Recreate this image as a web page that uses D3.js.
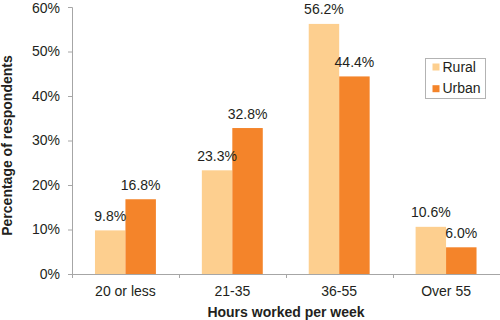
<!DOCTYPE html>
<html>
<head>
<meta charset="utf-8">
<script src="https://cdn.jsdelivr.net/npm/d3@7"></script>
<style>
  body { margin: 0; background: #fff; }
  svg { display: block; font-family: "Liberation Sans", Arial, Helvetica, sans-serif; }
  .axis path, .axis line { stroke: #a6a6a6; }
  .axis text { font-size: 14px; fill: #231f20; }
</style>
</head>
<body>
<div id="chart"></div>
<script>
const categories = ['20 or less', '21-35', '36-55', 'Over 55'];
const seriesNames = ['Rural', 'Urban'];
const rural = [9.8, 23.3, 56.2, 10.6];
const urban = [16.8, 32.8, 44.4, 6.0];
const yTicks = [0, 10, 20, 30, 40, 50, 60];
const colors = ['#fdcf8f', '#f4842a'];

const width = 500;
const height = 320;
const margin = {top: 7, right: 0, bottom: 46, left: 72};

const svg = d3.select('#chart').append('svg')
  .attr('width', width)
  .attr('height', height);

const x = d3.scaleBand()
  .domain(categories)
  .range([margin.left, width - 0.5])
  .paddingInner(0)
  .paddingOuter(0);

const xInner = d3.scaleBand()
  .domain(seriesNames)
  .range([0, x.bandwidth()])
  .paddingInner(0)
  .paddingOuter(0.754);

const y = d3.scaleLinear()
  .domain([0, 60])
  .range([height - margin.bottom, margin.top]);

// axes
const yAxis = svg.append('g')
  .classed('axis', true)
  .attr('transform', `translate(${margin.left}, 0)`)
  .call(d3.axisLeft(y)
    .tickValues(yTicks)
    .tickSizeOuter(0)
    .tickSize(4)
    .tickPadding(8)
    .tickFormat(d => d + '%'));
// keep the top label inside the picture
yAxis.selectAll('.tick text').attr('dy', d => d === 60 ? '0.42em' : '0.32em');

const xAxis = svg.append('g')
  .classed('axis', true)
  .attr('transform', `translate(0, ${y(0)})`)
  .call(d3.axisBottom(x).tickSize(0).tickSizeOuter(0).tickPadding(12.5));
xAxis.select('.domain').attr('d', `M${margin.left - 4},0.5H${width}`);

// band boundary ticks
svg.append('g')
  .classed('axis', true)
  .selectAll('line')
  .data(categories.map(c => x(c)).concat([x(categories[3]) + x.bandwidth()]))
  .join('line')
  .attr('x1', d => Math.round(d) + 0.5)
  .attr('x2', d => Math.round(d) + 0.5)
  .attr('y1', y(0))
  .attr('y2', y(0) + 4);

// bars
const rows = categories.map((c, i) => ({cat: c, values: [rural[i], urban[i]]}));
const groups = svg.append('g')
  .selectAll('g')
  .data(rows)
  .join('g')
  .attr('transform', d => `translate(${x(d.cat)}, 0)`);

groups.selectAll('rect')
  .data(d => d.values.map((v, j) => ({key: seriesNames[j], value: v, j: j})))
  .join('rect')
  .attr('x', d => xInner(d.key))
  .attr('y', d => y(d.value))
  .attr('width', xInner.bandwidth())
  .attr('height', d => y(0) - y(d.value))
  .attr('fill', d => colors[d.j]);

groups.selectAll('text')
  .data(d => d.values.map((v, j) => ({key: seriesNames[j], value: v})))
  .join('text')
  .attr('x', d => xInner(d.key) + xInner.bandwidth() / 2)
  .attr('y', d => y(d.value) - 9.5)
  .attr('text-anchor', 'middle')
  .style('font-size', '14px')
  .style('fill', '#231f20')
  .text(d => d.value.toFixed(1) + '%');

// axis titles
svg.append('text')
  .attr('transform', `translate(12, ${(y(0) + y(60)) / 2 + 5}) rotate(-90)`)
  .attr('text-anchor', 'middle')
  .style('font-size', '14px')
  .style('font-weight', 'bold')
  .style('fill', '#231f20')
  .text('Percentage of respondents');

svg.append('text')
  .attr('x', (margin.left + width) / 2)
  .attr('y', 317)
  .attr('text-anchor', 'middle')
  .style('font-size', '14px')
  .style('font-weight', 'bold')
  .style('fill', '#231f20')
  .text('Hours worked per week');

// legend
const legend = svg.append('g')
  .attr('transform', 'translate(425.5, 58.5)');
legend.append('rect')
  .attr('width', 60)
  .attr('height', 40)
  .attr('fill', '#fff')
  .attr('stroke', '#b3b3b3');
const items = legend.selectAll('g')
  .data(seriesNames)
  .join('g')
  .attr('transform', (d, i) => `translate(7, ${5 + i * 21.7})`);
items.append('rect')
  .attr('width', 7)
  .attr('height', 7)
  .attr('fill', (d, i) => colors[i]);
items.append('text')
  .attr('x', 10)
  .attr('y', 8)
  .style('font-size', '14px')
  .style('fill', '#231f20')
  .text(d => d);
</script>
</body>
</html>
